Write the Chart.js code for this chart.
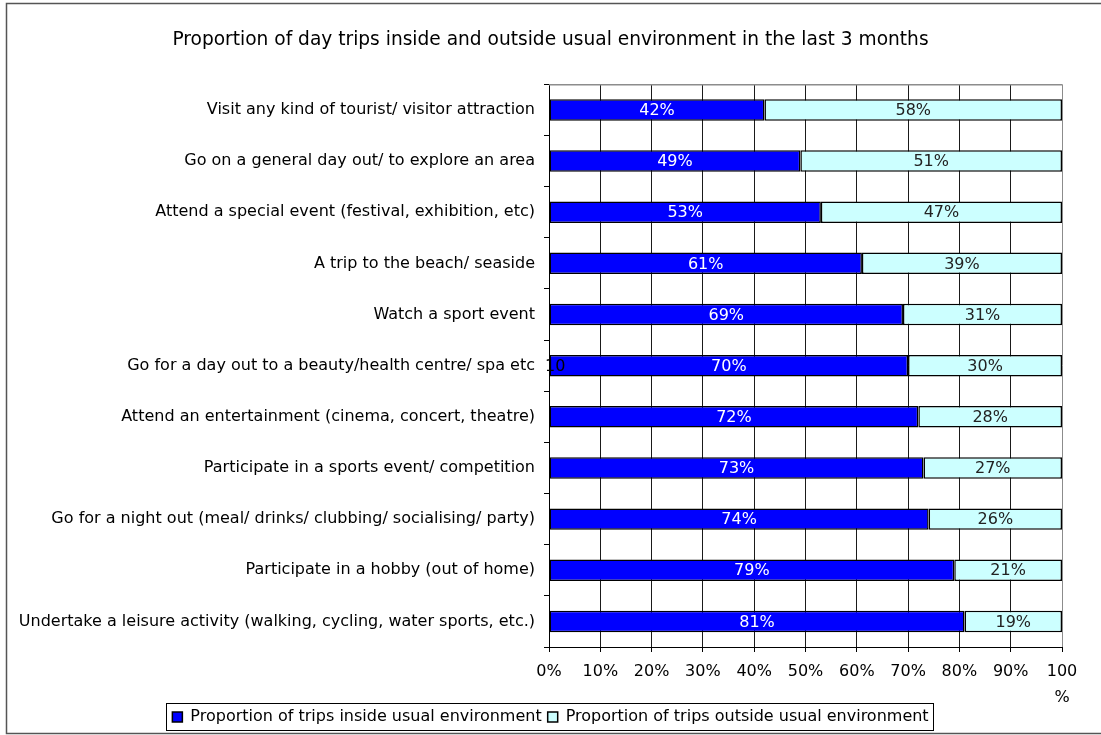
<!DOCTYPE html>
<html>
<head>
<meta charset="utf-8">
<script src="https://cdn.jsdelivr.net/npm/chart.js@4/dist/chart.umd.min.js"></script>
<style>
  html, body { margin: 0; padding: 0; background: #fff; }
  #wrap { position: relative; width: 1101px; height: 735px; }
</style>
</head>
<body>
<div id="wrap"><canvas id="c" width="1101" height="735"></canvas></div>
<script>
const categories = [
  'Visit any kind of tourist/ visitor attraction',
  'Go on a general day out/ to explore an area',
  'Attend a special event (festival, exhibition, etc)',
  'A trip to the beach/ seaside',
  'Watch a sport event',
  'Go for a day out to a beauty/health centre/ spa etc',
  'Attend an entertainment (cinema, concert, theatre)',
  'Participate in a sports event/ competition',
  'Go for a night out (meal/ drinks/ clubbing/ socialising/ party)',
  'Participate in a hobby (out of home)',
  'Undertake a leisure activity (walking, cycling, water sports, etc.)'
];
const insideShare = [42, 49, 53, 61, 69, 70, 72, 73, 74, 79, 81];
const outsideShare = [58, 51, 47, 39, 31, 30, 28, 27, 26, 21, 19];
const xTicks = [0, 10, 20, 30, 40, 50, 60, 70, 80, 90, 100];
const seriesNames = ['Proportion of trips inside usual environment', 'Proportion of trips outside usual environment'];
const strayNote = '10';

const FONT = "'DejaVu Sans', sans-serif";
const SIZE = 16;

// value labels centred in every bar segment
const segmentLabels = {
  id: 'segmentLabels',
  afterDatasetsDraw(chart) {
    const ctx = chart.ctx;
    ctx.save();
    ctx.font = SIZE + 'px ' + FONT;
    ctx.textAlign = 'center';
    ctx.textBaseline = 'middle';
    chart.data.datasets.forEach((ds, di) => {
      const meta = chart.getDatasetMeta(di);
      ctx.fillStyle = di === 0 ? '#ffffff' : '#222222';
      meta.data.forEach((bar, i) => {
        const p = bar.getCenterPoint();
        ctx.fillText(ds.data[i] + '%', p.x, p.y + 1);
      });
    });
    ctx.restore();
  }
};

// frame, plot-area top edge, legend box and the stray note beside the axis
const decorations = {
  id: 'decorations',
  afterDraw(chart) {
    const ctx = chart.ctx;
    const a = chart.chartArea;
    ctx.save();
    // plot area top edge
    ctx.strokeStyle = '#8c8c8c';
    ctx.lineWidth = 1.5;
    ctx.beginPath();
    ctx.moveTo(a.left, a.top + 0.5);
    ctx.lineTo(a.right, a.top + 0.5);
    ctx.stroke();
    // outer frame (left, top, bottom)
    ctx.strokeStyle = '#555';
    ctx.lineWidth = 1.5;
    ctx.beginPath();
    ctx.moveTo(1101, 3.5);
    ctx.lineTo(6.5, 3.5);
    ctx.lineTo(6.5, 733.5);
    ctx.lineTo(1101, 733.5);
    ctx.stroke();
    // legend border
    const boxes = chart.legend.legendHitBoxes;
    if (boxes && boxes.length) {
      let l = Infinity, r = -Infinity, t = Infinity, b = -Infinity;
      boxes.forEach(h => {
        l = Math.min(l, h.left); r = Math.max(r, h.left + h.width);
        t = Math.min(t, h.top); b = Math.max(b, h.top + h.height);
      });
      ctx.strokeStyle = '#000';
      ctx.lineWidth = 1;
      ctx.strokeRect(Math.round(l - 6) + 0.5, Math.round(t - 6) + 0.5, Math.round(r - l + 11), Math.round(b - t + 11));
    }
    // stray note drawn over the axis
    const y = chart.scales.y;
    ctx.fillStyle = '#000';
    ctx.font = SIZE + 'px ' + FONT;
    ctx.textAlign = 'left';
    ctx.textBaseline = 'middle';
    ctx.fillText(strayNote, a.left - 4, y.getPixelForValue(5) + 1);
    ctx.restore();
  }
};

new Chart(document.getElementById('c'), {
  type: 'bar',
  data: {
    labels: categories,
    datasets: [
      {
        label: seriesNames[0],
        data: insideShare,
        backgroundColor: '#0000ff',
        borderColor: '#000',
        borderWidth: 1.5,
        borderSkipped: false,
        categoryPercentage: 1,
        barPercentage: 0.42
      },
      {
        label: seriesNames[1],
        data: outsideShare,
        backgroundColor: '#ccffff',
        borderColor: '#000',
        borderWidth: 1.5,
        borderSkipped: false,
        categoryPercentage: 1,
        barPercentage: 0.42
      }
    ]
  },
  options: {
    indexAxis: 'y',
    responsive: false,
    animation: false,
    layout: { padding: { left: 6, right: 6, top: 20, bottom: 0 } },
    scales: {
      x: {
        stacked: true,
        min: 0,
        max: 100,
        afterBuildTicks(scale) { scale.ticks = xTicks.map(v => ({ value: v })); },
        ticks: {
          color: '#000',
          font: { family: FONT, size: SIZE, lineHeight: 1.6 },
          padding: 7,
          maxRotation: 0,
          autoSkip: false,
          callback: v => (v === 100 ? ['100', '%'] : v + '%')
        },
        grid: {
          color: ctx => (ctx.index === xTicks.length - 1 ? '#8c8c8c' : '#1a1a1a'),
          lineWidth: 1,
          tickLength: 5,
          tickColor: '#000'
        },
        border: { color: '#000', width: 1 },
        afterFit(scale) { scale.height = 56; }
      },
      y: {
        stacked: true,
        ticks: {
          color: '#000',
          font: { family: FONT, size: SIZE },
          padding: 9,
          autoSkip: false
        },
        grid: {
          drawOnChartArea: false,
          drawTicks: true,
          tickLength: 5,
          tickColor: '#000',
          offset: true
        },
        border: { color: '#000', width: 1 },
        afterFit(scale) { scale.width = 543; }
      },
      // empty margin on the right of the plot
      rightMargin: {
        type: 'linear',
        axis: 'y',
        position: 'right',
        display: true,
        ticks: { display: false },
        grid: { display: false },
        border: { display: false },
        afterFit(scale) { scale.width = 33; }
      }
    },
    plugins: {
      title: {
        display: true,
        text: 'Proportion of day trips inside and outside usual environment in the last 3 months',
        color: '#000',
        font: { family: FONT, size: 18.6, weight: 'normal' },
        padding: { top: 9, bottom: 33 }
      },
      legend: {
        position: 'bottom',
        labels: {
          color: '#000',
          font: { family: FONT, size: SIZE },
          boxWidth: 10,
          boxHeight: 10,
          padding: 6,
          useBorderRadius: false
        }
      },
      tooltip: { enabled: false }
    }
  },
  plugins: [segmentLabels, decorations]
});
</script>
</body>
</html>
